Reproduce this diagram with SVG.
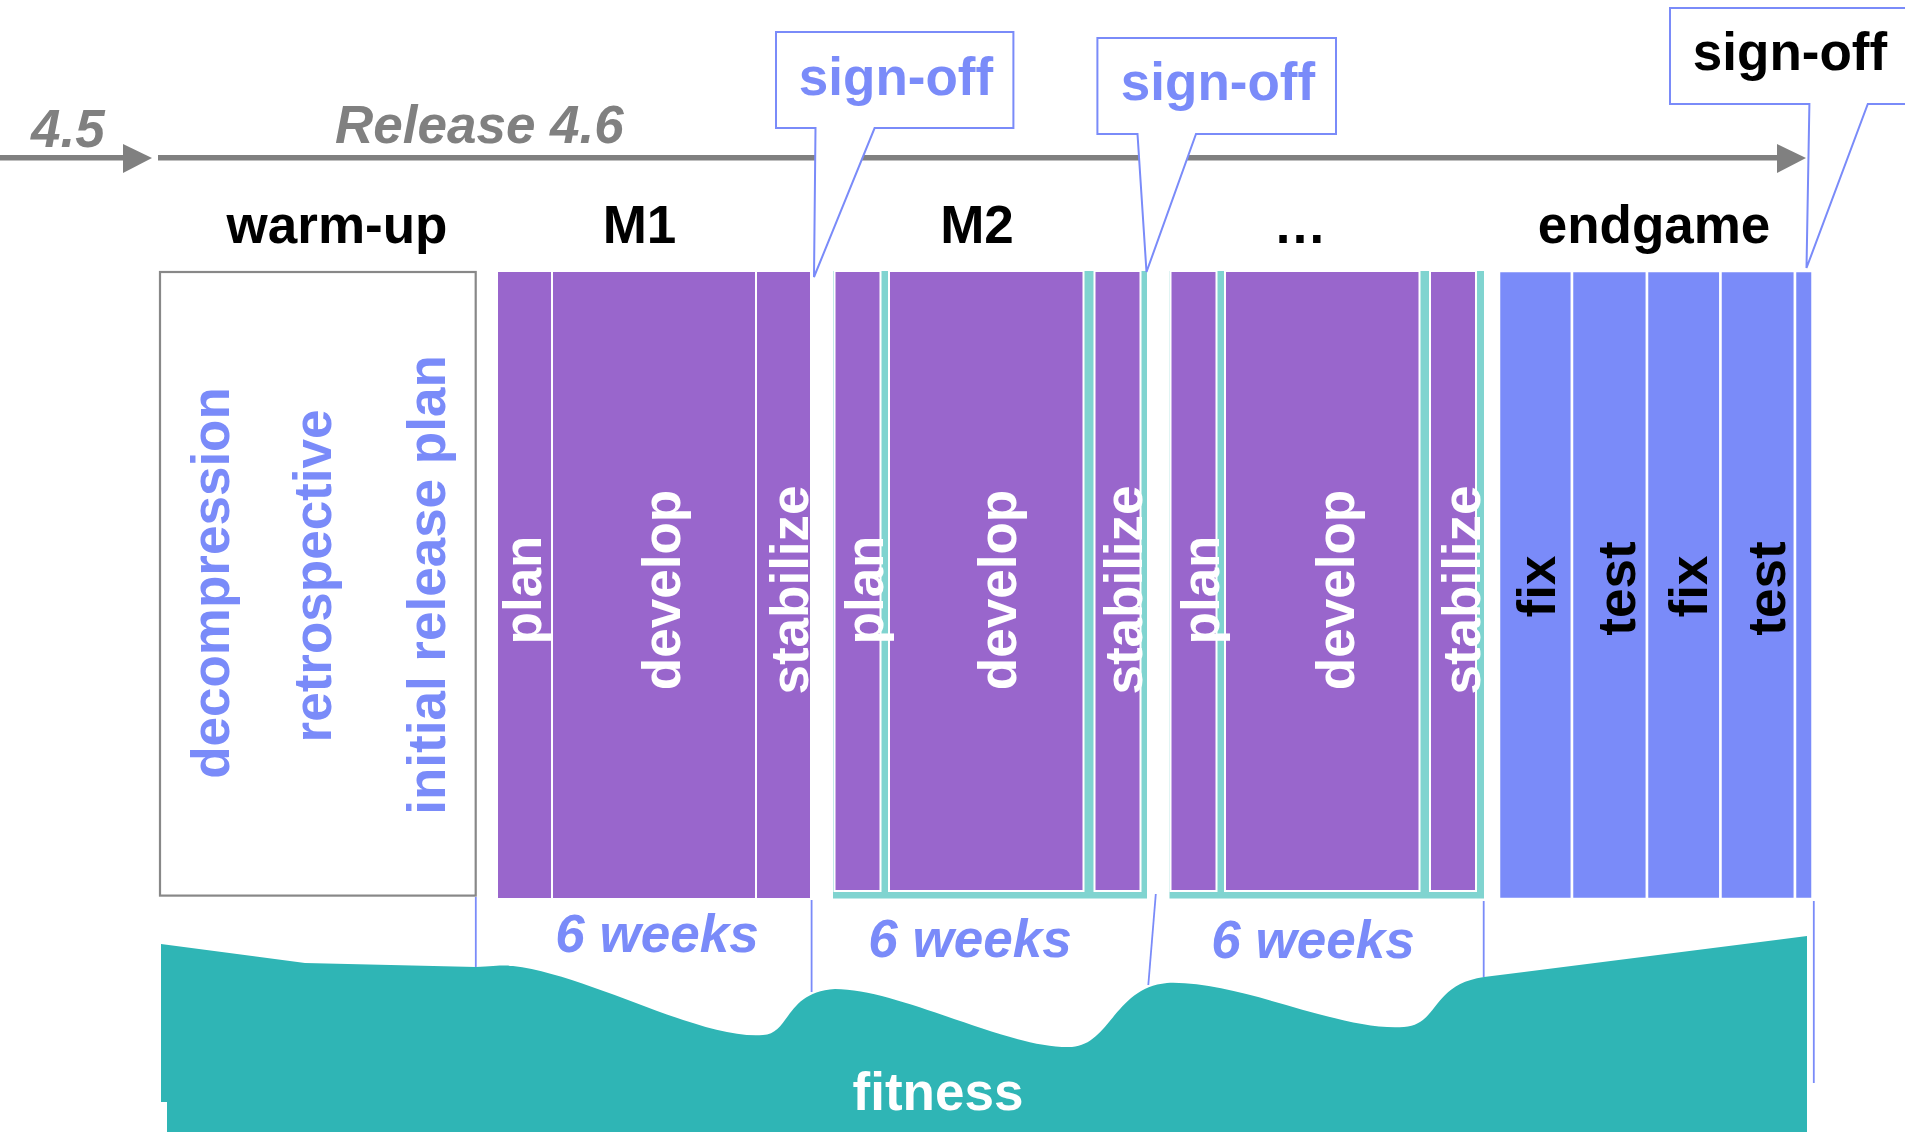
<svg xmlns="http://www.w3.org/2000/svg" width="1905" height="1132" viewBox="0 0 1905 1132">
<defs>
<style>
.t{font-family:"Liberation Sans",Arial,Helvetica,sans-serif;font-weight:bold;font-size:53px}
.c{text-anchor:middle}
.gray{fill:#808080;font-style:italic}
.blk{fill:#000}
.wht{fill:#fff}
.blu{fill:#7a8bf9}
.it{font-style:italic}
.purp{fill:#9966cc;stroke:#fff;stroke-width:2}
.endg{fill:#7a8bf9;stroke:#fff;stroke-width:2.5}
.cyan{fill:#80d4d0}
.call{fill:#fff;stroke:#7a8bf9;stroke-width:2}
.vl{stroke:#7a8bf9;stroke-width:1.8;fill:none}
</style>
</defs>
<rect width="1905" height="1132" fill="#fff"/>

<g id="fitness">
<path fill="#2fb5b5" d="M161,944 L305,963 L476,967 C495,966 505,965 513,966 C590,975 700,1040 763,1035 C790,1034 785,992 835,989 C900,989 1010,1050 1072,1047 C1110,1044 1115,988 1167,983 C1240,980 1340,1032 1404,1027 C1440,1024 1430,985 1484,977 L1807,936 L1807,1132 L167,1132 L167,1102 L161,1102 Z"/>
<text class="t c wht" x="938" y="1110">fitness</text>
</g>

<g id="connectors">
<line x1="0" y1="157.7" x2="124" y2="157.7" stroke="#808080" stroke-width="5.5"/>
<polygon points="123,144 152,158 123,173" fill="#808080"/>
<line x1="158" y1="157.7" x2="1778" y2="157.7" stroke="#808080" stroke-width="5.5"/>
<polygon points="1777,144 1806,158 1777,173" fill="#808080"/>
<line class="vl" x1="475.8" y1="897" x2="475.8" y2="967"/>
<line class="vl" x1="811.6" y1="900" x2="811.6" y2="992"/>
<line class="vl" x1="1155.8" y1="894" x2="1148.3" y2="985"/>
<line class="vl" x1="1483.7" y1="901" x2="1483.7" y2="977"/>
<line class="vl" x1="1813.8" y1="901" x2="1813.8" y2="1083"/>
</g>

<g id="header">
<text class="t gray" x="31" y="147">4.5</text>
<text class="t gray" x="335" y="143">Release 4.6</text>
<text class="t c blk" x="337" y="243">warm-up</text>
<text class="t c blk" x="639.5" y="243">M1</text>
<text class="t c blk" x="977" y="243">M2</text>
<text class="t c blk" x="1300" y="243">…</text>
<text class="t c blk" x="1654" y="243">endgame</text>
</g>

<g id="warm-up">
<rect x="160" y="272" width="315.7" height="623.6" fill="#fff" stroke="#888" stroke-width="2.2"/>
<text class="t c blu" transform="translate(229,583) rotate(-90)">decompression</text>
<text class="t c blu" transform="translate(331,576) rotate(-90)">retrospective</text>
<text class="t c blu" transform="translate(445,585) rotate(-90)">initial release plan</text>
</g>

<g id="m1">
<rect class="purp" x="497" y="271" width="55" height="628"/>
<rect class="purp" x="552" y="271" width="204" height="628"/>
<rect class="purp" x="756" y="271" width="55" height="628"/>
<text class="t c wht" transform="translate(541,590) rotate(-90)">plan</text>
<text class="t c wht" transform="translate(680,590) rotate(-90)">develop</text>
<text class="t c wht" transform="translate(808,590) rotate(-90)">stabilize</text>
<text class="t c blk it" x="657" y="952" style="fill:#7a8bf9">6 weeks</text>
</g>

<g id="m2">
<rect class="cyan" x="833" y="271" width="314" height="627.5"/>
<rect class="purp" x="834.5" y="271" width="46" height="620" stroke-width="1.5"/>
<rect class="purp" x="889" y="271" width="194.5" height="620" stroke-width="1.5"/>
<rect class="purp" x="1094.5" y="271" width="46" height="620" stroke-width="1.5"/>
<text class="t c wht" transform="translate(882.5,590) rotate(-90)">plan</text>
<text class="t c wht" transform="translate(1016.4,590) rotate(-90)">develop</text>
<text class="t c wht" transform="translate(1142.3,590) rotate(-90)">stabilize</text>
<text class="t c blu it" x="970" y="957">6 weeks</text>
</g>

<g id="m3">
<rect class="cyan" x="1169.5" y="271" width="314.5" height="627.5"/>
<rect class="purp" x="1170.5" y="271" width="46" height="620" stroke-width="1.5"/>
<rect class="purp" x="1225" y="271" width="194.5" height="620" stroke-width="1.5"/>
<rect class="purp" x="1430" y="271" width="46" height="620" stroke-width="1.5"/>
<text class="t c wht" transform="translate(1218.7,590) rotate(-90)">plan</text>
<text class="t c wht" transform="translate(1353.5,590) rotate(-90)">develop</text>
<text class="t c wht" transform="translate(1479.8,590) rotate(-90)">stabilize</text>
<text class="t c blu it" x="1313" y="958">6 weeks</text>
</g>

<g id="endgame">
<rect class="endg" x="1499" y="271" width="73" height="628"/>
<rect class="endg" x="1572" y="271" width="75" height="628"/>
<rect class="endg" x="1647" y="271" width="73.5" height="628"/>
<rect class="endg" x="1720.5" y="271" width="74.5" height="628"/>
<rect class="endg" x="1795" y="271" width="17.5" height="628"/>
<text class="t c blk" transform="translate(1555,586.5) rotate(-90)">fix</text>
<text class="t c blk" transform="translate(1635,588.5) rotate(-90)">test</text>
<text class="t c blk" transform="translate(1707,586.5) rotate(-90)">fix</text>
<text class="t c blk" transform="translate(1785,588.5) rotate(-90)">test</text>
</g>

<g id="signoff-1">
<path class="call" d="M776,32 H1013.4 V128 H874.6 L814,277 L815.5,128 H776 Z"/>
<text class="t c blu" x="896" y="95">sign-off</text>
</g>
<g id="signoff-2">
<path class="call" d="M1097.4,38 H1336 V134 H1196 L1146.5,272 L1137.5,134 H1097.4 Z"/>
<text class="t c blu" x="1218" y="100">sign-off</text>
</g>
<g id="signoff-3">
<path class="call" d="M1670,8 H1912 V104 H1867.8 L1806.5,268 L1809.4,104 H1670 Z"/>
<text class="t c blk" x="1790" y="70">sign-off</text>
</g>
</svg>
